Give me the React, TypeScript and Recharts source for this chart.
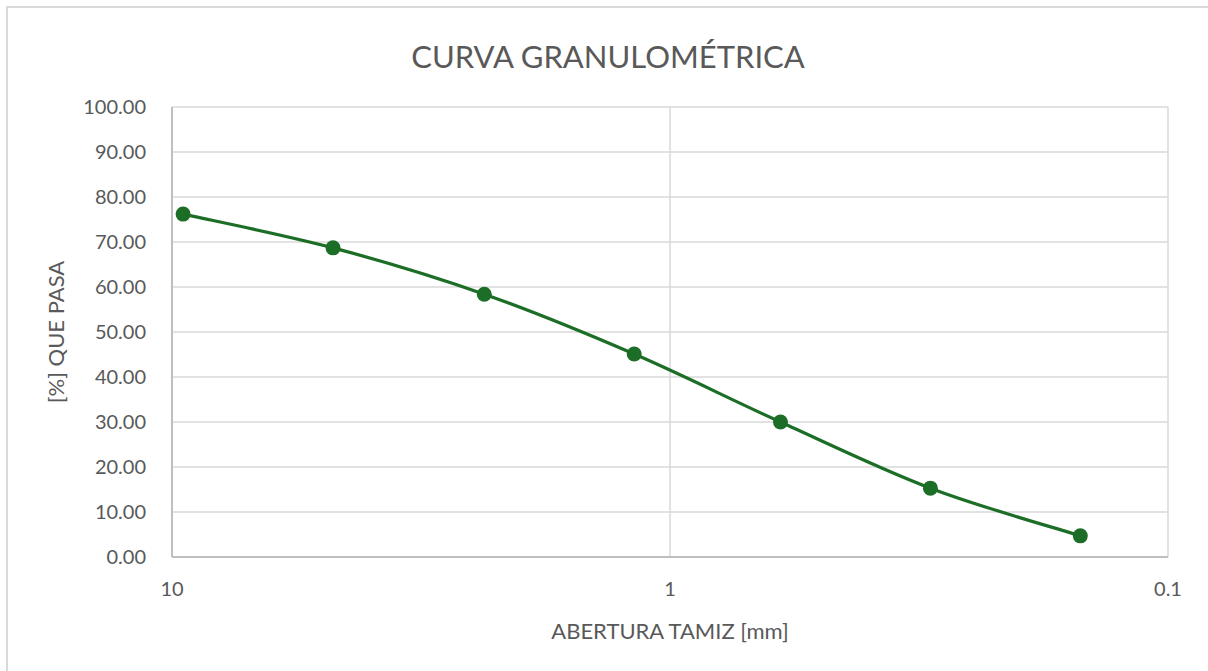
import { LineChart, Line, XAxis, YAxis, CartesianGrid, Label } from 'recharts'

const aberturas = [9.5, 4.75, 2.36, 1.18, 0.6, 0.3, 0.15]
const pasa = [76.2, 68.7, 58.4, 45.1, 30.0, 15.3, 4.7]
const xTicks = [10, 1, 0.1]
const yTicks = [0, 10, 20, 30, 40, 50, 60, 70, 80, 90, 100]

const data = aberturas.map((a, i) => ({ abertura: a, pasa: pasa[i] }))

const GREEN = '#1c6e27'
const FONT = 'Lato, "Open Sans", sans-serif'
const tickStyle = { fill: '#595959', fontSize: 20, fontFamily: FONT }

// Excel-style smoothed line: Catmull-Rom segments drawn as cubic Beziers
const excelCurve = (context: any) => {
  let pts: [number, number][] = []
  return {
    areaStart() {},
    areaEnd() {},
    lineStart() {
      pts = []
    },
    lineEnd() {
      const n = pts.length
      if (!n) return
      context.moveTo(pts[0][0], pts[0][1])
      for (let i = 0; i < n - 1; i++) {
        const p0 = pts[Math.max(i - 1, 0)]
        const p1 = pts[i]
        const p2 = pts[i + 1]
        const p3 = pts[Math.min(i + 2, n - 1)]
        const t = 1 / 6
        context.bezierCurveTo(
          p1[0] + (p2[0] - p0[0]) * t,
          p1[1] + (p2[1] - p0[1]) * t,
          p2[0] - (p3[0] - p1[0]) * t,
          p2[1] - (p3[1] - p1[1]) * t,
          p2[0],
          p2[1],
        )
      }
    },
    point(x: number, y: number) {
      pts.push([+x, +y])
    },
  }
}

export default function App() {
  return (
    <div style={{ position: 'absolute', left: 0, top: 0, width: 1208, height: 671, overflow: 'hidden', background: '#fff' }}>
      <svg width={1208} height={671} style={{ position: 'absolute', left: 0, top: 0 }}>
        <rect x={7} y={7} width={1240} height={700} fill="#fff" stroke="#d9d9d9" strokeWidth={2} />
      </svg>
      <div
        style={{
          position: 'absolute',
          left: 0,
          top: 37,
          width: 1216,
          textAlign: 'center',
          fontFamily: FONT,
          fontSize: 31,
          color: '#595959',
        }}
      >
        CURVA GRANULOMÉTRICA
      </div>
      <div style={{ position: 'absolute', left: 0, top: 0 }}>
        <LineChart width={1208} height={671} data={data} margin={{ top: 107, right: 40, bottom: 54, left: 92 }}>
          <CartesianGrid stroke="#d9d9d9" strokeWidth={1.5} />
          <XAxis
            dataKey="abertura"
            type="number"
            scale="log"
            domain={[0.1, 10]}
            ticks={xTicks}
            reversed
            allowDataOverflow
            height={60}
            tickLine={false}
            tickSize={6}
            tickMargin={19}
            axisLine={{ stroke: '#bfbfbf', strokeWidth: 2 }}
            tick={tickStyle}
            tickFormatter={(v) => String(v)}
          >
            <Label value="ABERTURA TAMIZ [mm]" position="insideBottom" offset={-22} style={{ ...tickStyle, fontSize: 22 }} />
          </XAxis>
          <YAxis
            dataKey="pasa"
            type="number"
            domain={[0, 100]}
            ticks={yTicks}
            width={80}
            tickLine={false}
            tickSize={6}
            tickMargin={20}
            axisLine={{ stroke: '#bfbfbf', strokeWidth: 2 }}
            tick={tickStyle}
            tickFormatter={(v) => v.toFixed(2)}
          >
            <Label
              value="[%] QUE PASA"
              angle={-90}
              position="insideLeft"
              offset={-36}
              style={{ ...tickStyle, fontSize: 22, textAnchor: 'middle' }}
            />
          </YAxis>
          <Line
            dataKey="pasa"
            type={excelCurve as any}
            stroke={GREEN}
            strokeWidth={3.2}
            dot={{ r: 7.5, fill: GREEN, stroke: 'none' }}
            activeDot={false}
            isAnimationActive={false}
          />
        </LineChart>
      </div>
    </div>
  )
}
